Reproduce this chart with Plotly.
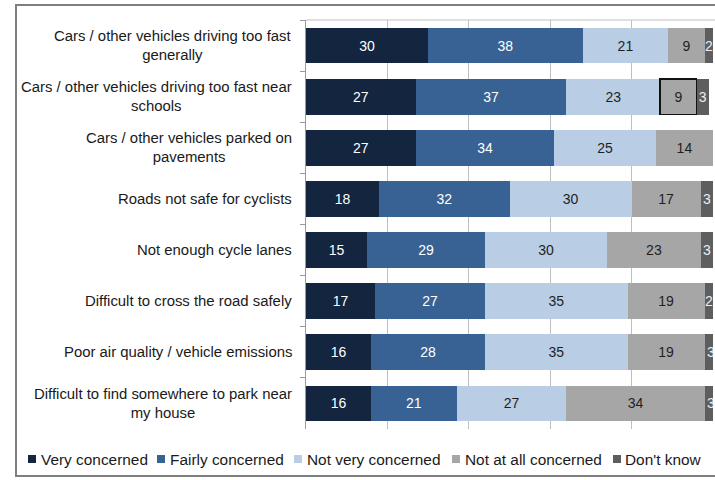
import plotly.graph_objects as go

categories = [
    "Cars / other vehicles driving too fast<br>generally",
    "Cars / other vehicles driving too fast near<br>schools",
    "Cars / other vehicles parked on<br>pavements",
    "Roads not safe for cyclists",
    "Not enough cycle lanes",
    "Difficult to cross the road safely",
    "Poor air quality / vehicle emissions",
    "Difficult to find somewhere to park near<br>my house",
]
series_names = ["Very concerned", "Fairly concerned", "Not very concerned",
                "Not at all concerned", "Don't know"]
very = [30, 27, 27, 18, 15, 17, 16, 16]
fairly = [38, 37, 34, 32, 29, 27, 28, 21]
not_very = [21, 23, 25, 30, 30, 35, 35, 27]
not_at_all = [9, 9, 14, 17, 23, 19, 19, 34]
dont_know = [2, 3, 0, 3, 3, 2, 3, 3]
series_values = [very, fairly, not_very, not_at_all, dont_know]
x_ticks = [0, 20, 40, 60, 80, 100]

colors = ["#13253f", "#386294", "#b9cde5", "#a6a6a6", "#5e5e5e"]
text_colors = ["#ffffff", "#ffffff", "#1f1f1f", "#1f1f1f", "#e8eef6"]
highlight = (3, 1)  # series index, category index with a black outline

W, H = 715, 480
ML, MR, MT, MB = 306, 2, 20, 51
PW, PH = W - ML - MR, H - MT - MB


def px2x(px):
    return (px - ML) / PW


def px2y(py):
    return (H - MB - py) / PH


FONT = "Liberation Sans, Arial, sans-serif"

fig = go.Figure()
for si, (name, vals) in enumerate(zip(series_names, series_values)):
    lw = [1.5 if (si, ci) == highlight else 0 for ci in range(len(vals))]
    lc = ["#111111" if (si, ci) == highlight else "rgba(0,0,0,0)" for ci in range(len(vals))]
    fig.add_trace(go.Bar(
        x=vals, y=categories, orientation="h", name=name,
        marker=dict(color=colors[si], line=dict(color=lc, width=lw)),
        text=[str(v) if v else "" for v in vals],
        textposition="inside", insidetextanchor="middle", textangle=0,
        constraintext="none",
        textfont=dict(family=FONT, size=14, color=text_colors[si]),
        hoverinfo="skip", cliponaxis=True,
    ))

annotations = []
for c in categories:
    annotations.append(dict(
        x=px2x(294), xref="paper", y=c, yref="y", text=c, showarrow=False,
        xanchor="right", yanchor="middle", align="center",
        font=dict(family=FONT, size=14.9, color="#1a1a1a"),
    ))

FRAME = "#7f7f7f"
# outer frame of the picture (an empty bordered box)
annotations.append(dict(
    x=px2x(15), xref="paper", y=px2y(4), yref="paper", xanchor="left",
    yanchor="top", text=" ", showarrow=False, width=745, height=469,
    bordercolor=FRAME, borderwidth=2, borderpad=0,
))

shapes = [
    dict(type="line", xref="paper", yref="paper", x0=0, x1=1.05, y0=1, y1=1,
         line=dict(color="#bfbfbf", width=1)),
]

legend_sq = [28, 157, 294, 452, 613]
legend_tx = [39, 168, 305, 463, 623]
for si, name in enumerate(series_names):
    shapes.append(dict(type="rect", xref="paper", yref="paper",
                       x0=px2x(legend_sq[si]), x1=px2x(legend_sq[si] + 8),
                       y0=px2y(463), y1=px2y(455),
                       fillcolor=colors[si], line=dict(width=0)))
    annotations.append(dict(
        x=px2x(legend_tx[si]), xref="paper", y=px2y(459), yref="paper",
        text=name, showarrow=False, xanchor="left", yanchor="middle",
        font=dict(family=FONT, size=15.4, color="#1a1a1a"),
    ))

fig.update_layout(
    width=W, height=H, barmode="stack", bargap=0.3,
    margin=dict(l=ML, r=MR, t=MT, b=MB, pad=0),
    paper_bgcolor="white", plot_bgcolor="white", showlegend=False,
    xaxis=dict(range=[0, 100], tickvals=x_ticks, showticklabels=False,
               showgrid=True, gridcolor="#bfbfbf", gridwidth=1,
               zeroline=False, showline=False, ticks=""),
    yaxis=dict(autorange="reversed", showticklabels=False, showgrid=False,
               showline=True, linecolor="#9a9a9a", linewidth=1,
               ticks="outside", tickson="boundaries", ticklen=5,
               tickcolor="#9a9a9a", zeroline=False),
    annotations=annotations, shapes=shapes,
)

fig.write_html(
    "out.html",
    config={"displayModeBar": False},
    post_script="document.body.style.margin='0';document.body.style.overflow='hidden';",
)
